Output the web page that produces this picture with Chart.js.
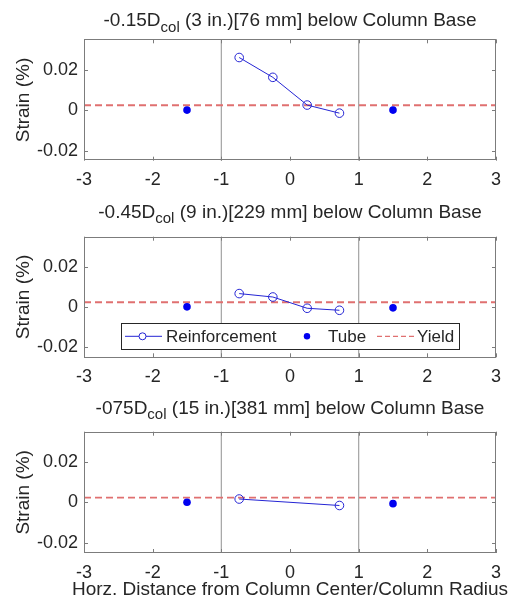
<!DOCTYPE html>
<html>
<head>
<meta charset="utf-8">
<script src="https://cdn.jsdelivr.net/npm/chart.js@4/dist/chart.umd.min.js"></script>
<style>
  html, body { margin: 0; padding: 0; background: #fff; }
  #wrap { position: relative; width: 513px; height: 610px; overflow: hidden; }
  canvas { position: absolute; left: 0; }
</style>
</head>
<body>
<div id="wrap">
  <canvas id="p1" width="513" height="197" style="top:0px"></canvas>
  <canvas id="p2" width="513" height="197" style="top:197px"></canvas>
  <canvas id="p3" width="513" height="216" style="top:394px"></canvas>
</div>
<script>
// gauge positions (x / column radius) and measured strains
const reinfX = [-0.74, -0.25, 0.25, 0.72]
const reinf1 = [0.026, 0.0162, 0.0025, -0.0015]
const reinf2 = [0.0067, 0.0050, -0.0006, -0.0016]
const reinf3 = [0.0017, null, null, -0.0015]
const tubeX = [-1.5, 1.5]
const tube1 = [0, 0]
const tube2 = [0.0001, -0.0004]
const tube3 = [0.0001, -0.0006]
const yieldStrain = 0.0024
const boundaryX = [-1, 1]

const xTicks = [-3, -2, -1, 0, 1, 2, 3]
const xTickLabels = ['-3', '-2', '-1', '0', '1', '2', '3']
const yTicks = [-0.02, 0, 0.02]
const yTickLabels = ['-0.02', '0', '0.02']
const xRange = [-3, 3]
const yRange = [-0.025, 0.035]

const titleMain = ['-0.15D', '-0.45D', '-075D']
const titleSub = ['col', 'col', 'col']
const titleRest = [' (3 in.)[76 mm] below Column Base', ' (9 in.)[229 mm] below Column Base', ' (15 in.)[381 mm] below Column Base']
const legendLabels = ['Reinforcement', 'Tube', 'Yield']
const xTitle = 'Horz. Distance from Column Center/Column Radius'
const yTitle = 'Strain (%)'

const FONT = '"Liberation Sans", Arial, Helvetica, sans-serif'
const TEXT = '#262626'
const BLUE_LINE = '#2424d4'
const BLUE_DOT = '#0000f0'
const RED = '#e07070'
const GRAY = '#a3a3a3'
const AXIS = '#7c7c7c'

// per-panel layout (canvas-relative)
const titleBaseline = [26, 20.5, 19.5]
const plotTop = [39.3, 39.7, 37.7]
const plotBottom = [160.7, 160.3, 159]

function pts(xs, ys) {
  return xs.map((x, i) => ({ x, y: ys[i] }))
}

function drawTitle(chart, idx) {
  const { ctx, chartArea: a } = chart
  const cx = (a.left + a.right) / 2
  const y = titleBaseline[idx]
  ctx.save()
  ctx.fillStyle = TEXT
  ctx.textBaseline = 'alphabetic'
  ctx.textAlign = 'left'
  const mainFont = '19px ' + FONT
  const subFont = '15px ' + FONT
  ctx.font = mainFont
  const w1 = ctx.measureText(titleMain[idx]).width
  const w3 = ctx.measureText(titleRest[idx]).width
  ctx.font = subFont
  const w2 = ctx.measureText(titleSub[idx]).width
  let x = cx - (w1 + w2 + w3) / 2
  ctx.font = mainFont
  ctx.fillText(titleMain[idx], x, y)
  x += w1
  ctx.font = subFont
  ctx.fillText(titleSub[idx], x, y + 5.7)
  x += w2
  ctx.font = mainFont
  ctx.fillText(titleRest[idx], x, y)
  ctx.restore()
}

function drawFrame(chart) {
  const { ctx, chartArea: a, scales } = chart
  const tl = 4
  ctx.save()
  ctx.strokeStyle = AXIS
  ctx.lineWidth = 1
  ctx.strokeRect(Math.round(a.left) + 0.5, Math.round(a.top) + 0.5, Math.round(a.right - a.left) - 1, Math.round(a.bottom - a.top) - 1)
  ctx.beginPath()
  xTicks.forEach(v => {
    const px = Math.round(scales.x.getPixelForValue(v)) + 0.5
    ctx.moveTo(px, a.bottom); ctx.lineTo(px, a.bottom - tl)
    ctx.moveTo(px, a.top); ctx.lineTo(px, a.top + tl)
  })
  yTicks.forEach(v => {
    const py = Math.round(scales.y.getPixelForValue(v)) + 0.5
    ctx.moveTo(a.left, py); ctx.lineTo(a.left + tl, py)
    ctx.moveTo(a.right, py); ctx.lineTo(a.right - tl, py)
  })
  ctx.stroke()
  ctx.restore()
}

function drawLegend(chart) {
  const { ctx, chartArea: a } = chart
  const x0 = a.left + 37, w = 338, h = 26
  const y0 = a.bottom - 34
  const cy = y0 + 13
  ctx.save()
  ctx.fillStyle = '#fff'
  ctx.fillRect(x0, y0, w, h)
  ctx.strokeStyle = TEXT
  ctx.lineWidth = 1
  ctx.strokeRect(Math.round(x0) + 0.5, Math.round(y0) + 0.5, w, h)

  // reinforcement: line + open circle
  ctx.strokeStyle = BLUE_LINE
  ctx.beginPath()
  ctx.moveTo(x0 + 4, cy); ctx.lineTo(x0 + 41, cy)
  ctx.stroke()
  ctx.fillStyle = '#fff'
  ctx.beginPath()
  ctx.arc(x0 + 21.5, cy, 3.5, 0, Math.PI * 2)
  ctx.fill(); ctx.stroke()

  // tube: filled dot
  ctx.fillStyle = BLUE_DOT
  ctx.beginPath()
  ctx.arc(x0 + 186, cy, 3.2, 0, Math.PI * 2)
  ctx.fill()

  // yield: dashed red
  ctx.strokeStyle = RED
  ctx.lineWidth = 1.3
  ctx.setLineDash([5, 3])
  ctx.beginPath()
  ctx.moveTo(x0 + 256, cy); ctx.lineTo(x0 + 294, cy)
  ctx.stroke()
  ctx.setLineDash([])

  ctx.fillStyle = TEXT
  ctx.font = '17px ' + FONT
  ctx.textBaseline = 'middle'
  ctx.textAlign = 'left'
  ctx.fillText(legendLabels[0], x0 + 45, cy + 1)
  ctx.fillText(legendLabels[1], x0 + 207, cy + 1)
  ctx.fillText(legendLabels[2], x0 + 296, cy + 1)
  ctx.restore()
}

function drawXTitle(chart) {
  const { ctx, chartArea: a } = chart
  ctx.save()
  ctx.fillStyle = TEXT
  ctx.font = '19px ' + FONT
  ctx.textAlign = 'center'
  ctx.textBaseline = 'alphabetic'
  ctx.fillText(xTitle, (a.left + a.right) / 2, 201)
  ctx.restore()
}

function makePanel(id, idx, reinf, tube, opts) {
  const canvas = document.getElementById(id)
  const H = canvas.height
  const decor = {
    id: 'decor' + idx,
    afterDraw(chart) {
      drawFrame(chart)
      drawTitle(chart, idx)
      if (opts.legend) drawLegend(chart)
      if (opts.xTitle) drawXTitle(chart)
    }
  }
  return new Chart(canvas.getContext('2d'), {
    type: 'scatter',
    data: {
      datasets: [
        {
          label: legendLabels[0],
          data: pts(reinfX, reinf),
          showLine: true,
          spanGaps: true,
          borderColor: BLUE_LINE,
          borderWidth: 1,
          pointRadius: 4.3,
          pointBorderWidth: 1,
          pointBorderColor: BLUE_LINE,
          pointBackgroundColor: 'rgba(0,0,0,0)'
        },
        {
          label: legendLabels[1],
          data: pts(tubeX, tube),
          showLine: false,
          pointRadius: 3.8,
          pointBorderWidth: 0,
          pointBackgroundColor: BLUE_DOT
        },
        {
          label: legendLabels[2],
          data: pts(xRange, [yieldStrain, yieldStrain]),
          showLine: true,
          borderColor: RED,
          borderWidth: 1.8,
          borderDash: [7, 4],
          pointRadius: 0
        },
        ...boundaryX.map(bx => ({
          label: 'boundary',
          data: pts([bx, bx], yRange),
          showLine: true,
          borderColor: GRAY,
          borderWidth: 1.2,
          pointRadius: 0
        }))
      ]
    },
    options: {
      responsive: false,
      animation: false,
      events: [],
      layout: { padding: { top: plotTop[idx], right: 17, left: 0, bottom: 0 } },
      plugins: { legend: { display: false }, tooltip: { enabled: false }, title: { display: false } },
      scales: {
        x: {
          type: 'linear',
          min: xRange[0], max: xRange[1],
          afterBuildTicks: s => { s.ticks = xTicks.map(v => ({ value: v })) },
          afterFit: s => { s.height = H - plotBottom[idx] },
          grid: { display: false, drawTicks: false },
          border: { display: false },
          ticks: {
            padding: 9,
            color: TEXT,
            font: { family: FONT, size: 18 },
            maxRotation: 0,
            autoSkip: false,
            callback: (v, i) => xTickLabels[i]
          }
        },
        y: {
          type: 'linear',
          min: yRange[0], max: yRange[1],
          afterBuildTicks: s => { s.ticks = yTicks.map(v => ({ value: v })) },
          afterFit: s => { s.width = 84 },
          grid: { display: false, drawTicks: false },
          border: { display: false },
          ticks: {
            padding: 6,
            color: TEXT,
            font: { family: FONT, size: 18 },
            autoSkip: false,
            callback: (v, i) => yTickLabels[i]
          },
          title: {
            display: true,
            text: yTitle,
            color: TEXT,
            font: { family: FONT, size: 19 },
            padding: { top: 12, bottom: 0 }
          }
        }
      }
    },
    plugins: [decor]
  })
}

makePanel('p1', 0, reinf1, tube1, {})
makePanel('p2', 1, reinf2, tube2, { legend: true })
makePanel('p3', 2, reinf3, tube3, { xTitle: true })
</script>
</body>
</html>
